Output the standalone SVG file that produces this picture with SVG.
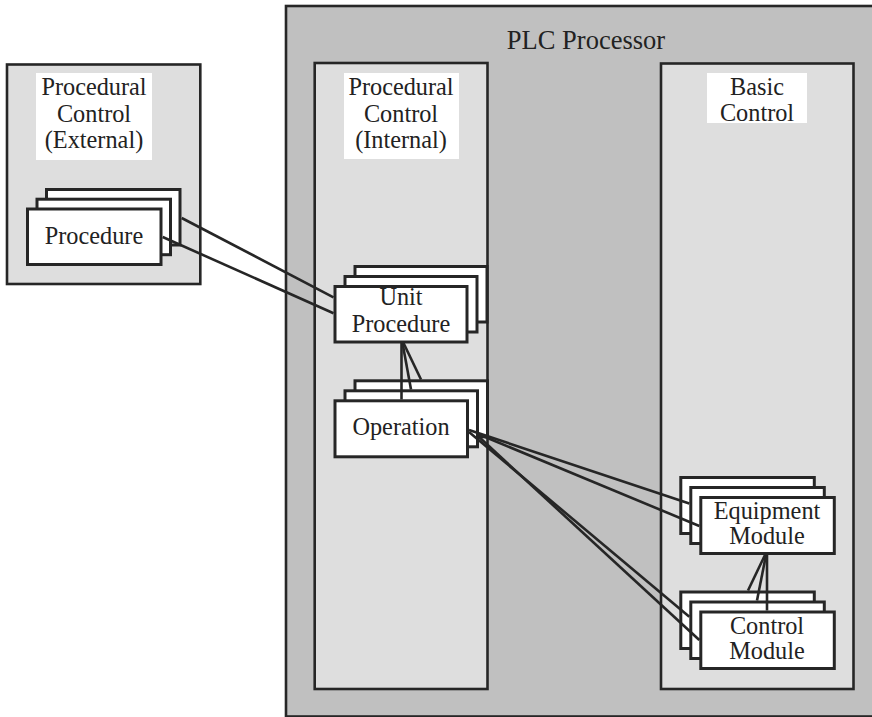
<svg xmlns="http://www.w3.org/2000/svg" width="872" height="717" viewBox="0 0 872 717">
  <style>
    .panel { stroke: #262626; stroke-width: 2.6; }
    .outer { fill: #c0c0c0; }
    .inner { fill: #dedede; }
    .card { fill: #ffffff; stroke: #262626; stroke-width: 3; }
    .tag { fill: #ffffff; }
    .lbl { font-family: "Liberation Serif", "Times New Roman", serif; font-size: 24.3px; fill: #222222; text-anchor: middle; }
    .title { font-size: 26.5px; }
    .wire { stroke: #262626; stroke-width: 2.6; fill: none; }
  </style>

  <!-- containers -->
  <g id="plc-processor">
    <rect class="panel outer" x="286" y="6" width="600" height="710.5"/>
    <text class="lbl title" x="586" y="49">PLC Processor</text>
  </g>
  <g id="procedural-external">
    <rect class="panel inner" x="7" y="64.5" width="193.3" height="219.5"/>
    <rect class="tag" x="36" y="73" width="116" height="87"/>
    <text class="lbl" x="94" y="95">Procedural</text>
    <text class="lbl" x="94" y="121.5">Control</text>
    <text class="lbl" x="94" y="148">(External)</text>
  </g>
  <g id="procedural-internal">
    <rect class="panel inner" x="314.7" y="63" width="172.8" height="626"/>
    <rect class="tag" x="344" y="73" width="115" height="86"/>
    <text class="lbl" x="401" y="95">Procedural</text>
    <text class="lbl" x="401" y="121.5">Control</text>
    <text class="lbl" x="401" y="148">(Internal)</text>
  </g>
  <g id="basic-control">
    <rect class="panel inner" x="661" y="63.5" width="192.5" height="625.5"/>
    <rect class="tag" x="707" y="73" width="100" height="50"/>
    <text class="lbl" x="757" y="94.5">Basic</text>
    <text class="lbl" x="757" y="120.5">Control</text>
  </g>

  <!-- stacked element cards -->
  <g id="procedure">
    <rect class="card" x="46.5" y="189.5" width="133.5" height="55.5"/>
    <rect class="card" x="37" y="199.2" width="133.5" height="55.5"/>
    <rect class="card" x="27.5" y="209" width="133.5" height="55.5"/>
    <text class="lbl" x="94" y="243.5">Procedure</text>
  </g>
  <g id="unit-procedure">
    <rect class="card" x="355" y="266.5" width="132" height="55.5"/>
    <rect class="card" x="345" y="276.5" width="132" height="55.5"/>
    <rect class="card" x="335" y="286.5" width="132" height="55.5"/>
    <text class="lbl" x="401" y="305">Unit</text>
    <text class="lbl" x="401" y="331.5">Procedure</text>
  </g>
  <g id="operation">
    <rect class="card" x="355" y="380.8" width="132.5" height="56"/>
    <rect class="card" x="345" y="390.8" width="132.5" height="56"/>
    <rect class="card" x="335" y="400.8" width="132.5" height="56"/>
    <text class="lbl" x="401" y="435">Operation</text>
  </g>
  <g id="equipment-module">
    <rect class="card" x="680.8" y="477.5" width="133.5" height="56"/>
    <rect class="card" x="690.8" y="487.5" width="133.5" height="56"/>
    <rect class="card" x="700.8" y="497.5" width="133.5" height="56"/>
    <text class="lbl" x="767" y="518.5">Equipment</text>
    <text class="lbl" x="767" y="543.5">Module</text>
  </g>
  <g id="control-module">
    <rect class="card" x="680.8" y="592" width="133.5" height="56.5"/>
    <rect class="card" x="690.8" y="602" width="133.5" height="56.5"/>
    <rect class="card" x="700.8" y="612" width="133.5" height="56.5"/>
    <text class="lbl" x="767" y="633.5">Control</text>
    <text class="lbl" x="767" y="658.5">Module</text>
  </g>

  <!-- connectors -->
  <g id="connectors">
    <line class="wire" x1="181.7" y1="218" x2="333.5" y2="297.3"/>
    <line class="wire" x1="162.7" y1="237" x2="333.5" y2="313.3"/>

    <line class="wire" x1="401.5" y1="343" x2="401.5" y2="399.5"/>
    <line class="wire" x1="402.5" y1="343" x2="411" y2="389.5"/>
    <line class="wire" x1="403.5" y1="343" x2="421" y2="379.5"/>

    <line class="wire" x1="469" y1="430" x2="689.3" y2="503.5"/>
    <line class="wire" x1="478" y1="434" x2="699.3" y2="526"/>
    <line class="wire" x1="469" y1="432" x2="689.3" y2="616.7"/>
    <line class="wire" x1="478" y1="436" x2="699.3" y2="640"/>

    <line class="wire" x1="767" y1="555" x2="767" y2="610.5"/>
    <line class="wire" x1="766" y1="555" x2="757" y2="600.5"/>
    <line class="wire" x1="765" y1="555" x2="748" y2="590.5"/>
  </g>
</svg>
